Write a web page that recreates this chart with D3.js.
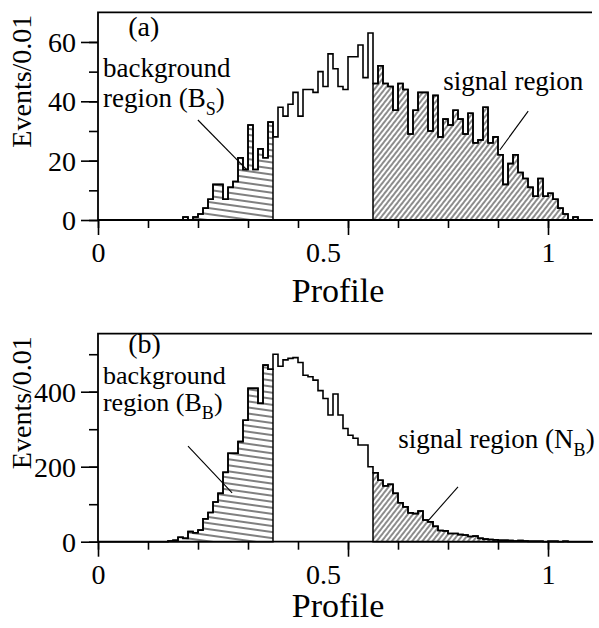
<!DOCTYPE html>
<html>
<head>
<meta charset="utf-8">
<script src="https://cdn.jsdelivr.net/npm/d3@7"></script>
<style>
body{margin:0;background:#fff;}
svg text{font-family:"Liberation Serif","Times New Roman",serif;fill:#000;}
</style>
</head>
<body>
<svg width="599" height="628"></svg>
<script>
"use strict";

// width of one histogram bin in profile units
var binWidth = 1/90;

// panel (a): events per bin, bin 0 starts at profile 0
var countsA = [0,0,0,0,0,0,0,0,0,0, 0,0,0,0,0,0,0,1,0,1,
	2,4,7,12,12,7,11,13,21,17, 32,17,24,21,33,28,38,35,39,43,
	35,44,44,43,50,45,56,51,45,44, 55,55,59,48,63,46,52,46,45,37,
	46,44,29,37,43,43,30,42,28,34, 32,37,34,29,36,26,27,38,26,28,
	22,12,19,22,16,14,11,8,14,8, 9,7,4,2,0,1,0,0,0];

// panel (b)
var countsB = [0,0,0,0,0,0,0,0,0,0, 0,0,0,0,2,4,12,9,27,24,
	31,61,78,106,129,185,236,236,267,324, 409,409,369,471,460,500,468,485,489,491,
	478,444,440,431,403,382,338,394,338,302, 284,276,258,258,200,184,164,149,153,129,
	104,93,77,75,82,58,53,41,30,29, 22,22,19,18,14,15,9,7,6,5,
	4,4,3,2,3,2,1,1,1,0, 1,1,0,1,0,0,0,0,0];

// regions as [first bin, end bin)
var bkgBins = [0, 35];
var sigBins = [55, 99];

var xTickLabels = [0, 0.5, 1];
var yMinorA = [0,10,20,30,40,50,60];
var yMajorA = [0,20,40,60];
var yMinorB = [0,100,200,300,400,500];
var yMajorB = [0,200,400];

function dataViz(){

	var svg = d3.select("svg");
	var defs = svg.append("defs");

	defs.append("pattern")
		.attr("id","hatchBkg")
		.attr("patternUnits","userSpaceOnUse")
		.attr("width",12).attr("height",6)
		.attr("patternTransform","rotate(8)")
		.append("line")
		.attr("x1",0).attr("y1",3).attr("x2",12).attr("y2",3)
		.attr("stroke","#000").attr("stroke-width",1);

	defs.append("pattern")
		.attr("id","hatchSig")
		.attr("patternUnits","userSpaceOnUse")
		.attr("width",4).attr("height",12)
		.attr("patternTransform","rotate(38)")
		.append("line")
		.attr("x1",2).attr("y1",0).attr("x2",2).attr("y2",12)
		.attr("stroke","#000").attr("stroke-width",0.9);

	function panel(counts, yMax, top, bottom, yMinor, yMajor, titleY){
		var g = svg.append("g");
		var xScale = d3.scaleLinear().domain([0,1]).range([98,548]);
		var yScale = d3.scaleLinear().domain([0,yMax]).range([bottom,top]);
		var xEnd = 592;

		function region(r, fill){
			var pts = d3.range(r[0], r[1]);
			var area = d3.area()
				.curve(d3.curveStepAfter)
				.x(function(i){return xScale(i*binWidth);})
				.y0(yScale(0))
				.y1(function(i){return yScale(counts[Math.min(i, r[1]-1)]);});
			g.append("path")
				.attr("d", area(pts.concat([r[1]])))
				.attr("fill", fill)
				.attr("stroke","#000")
				.attr("stroke-width",1.5);
		}
		region(bkgBins, "url(#hatchBkg)");
		region(sigBins, "url(#hatchSig)");

		var line = d3.line()
			.curve(d3.curveStepAfter)
			.x(function(i){return xScale(i*binWidth);})
			.y(function(i){return yScale(counts[Math.min(i, counts.length-1)]);});
		g.append("path")
			.attr("d", line(d3.range(0, counts.length+1)))
			.attr("fill","none")
			.attr("stroke","#000")
			.attr("stroke-width",1.6);

		// frame
		g.append("path")
			.attr("d","M"+xScale(0)+","+yScale(0)+"H"+xEnd+"M"+xScale(0)+","+yScale(0)+"V"+yScale(yMax)+"H"+xEnd)
			.attr("fill","none").attr("stroke","#000").attr("stroke-width",1.8);

		// x ticks every tenth of the drawn axis
		var minorX = g.append("g").attr("transform","translate(0,"+yScale(0)+")")
			.call(d3.axisBottom(xScale).tickValues(d3.range(0,10).map(function(k){return k/9;})).tickSize(8).tickFormat(""));
		var majorX = g.append("g").attr("transform","translate(0,"+yScale(0)+")")
			.call(d3.axisBottom(xScale).tickValues([0,5/9,1]).tickSize(15).tickFormat(""));
		var labX = g.append("g").attr("transform","translate(0,"+yScale(0)+")")
			.call(d3.axisBottom(xScale).tickValues(xTickLabels).tickSize(0).tickPadding(22).tickFormat(d3.format("")));

		var minorY = g.append("g").attr("transform","translate("+xScale(0)+",0)")
			.call(d3.axisLeft(yScale).tickValues(yMinor).tickSize(9).tickFormat(""));
		var majorY = g.append("g").attr("transform","translate("+xScale(0)+",0)")
			.call(d3.axisLeft(yScale).tickValues(yMajor).tickSize(17).tickPadding(5).tickFormat(d3.format("d")));

		[minorX, majorX, labX, minorY, majorY].forEach(function(a){
			a.select(".domain").remove();
			a.selectAll("line").attr("stroke","#000").attr("stroke-width",1.6);
			a.selectAll("text").attr("font-family",null).attr("font-size",28).attr("fill","#000");
		});
		labX.selectAll("text").attr("dy","0.71em");
		majorY.selectAll("text").attr("dy","0.34em");

		g.append("text")
			.attr("x",338).attr("y",titleY)
			.attr("text-anchor","middle")
			.attr("font-size",34)
			.text("Profile");

		g.append("text")
			.attr("transform","translate(31,"+(yScale(yMax)+ (bottom-top)/2 - 35)+") rotate(-90)")
			.attr("text-anchor","middle")
			.attr("font-size",28)
			.text("Events/0.01");

		return {g:g, x:xScale, y:yScale};
	}

	function label(p, v, c, parts, size){
		var t = p.g.append("text")
			.attr("x", p.x(v)).attr("y", p.y(c))
			.attr("font-size", size);
		var shift = 0;
		parts.forEach(function(s){
			var sub = s.sub === true;
			var dy = sub ? 8 - shift : -shift;
			shift = sub ? 8 : 0;
			t.append("tspan").attr("dy", dy).attr("font-size", sub ? 18 : size).text(s.t);
		});
	}
	function leader(p, v1, c1, v2, c2){
		p.g.append("line")
			.attr("x1",p.x(v1)).attr("y1",p.y(c1))
			.attr("x2",p.x(v2)).attr("y2",p.y(c2))
			.attr("stroke","#000").attr("stroke-width",1.1);
	}

	var a = panel(countsA, 70, 12.3, 220, yMinorA, yMajorA, 302);
	label(a, 0.067, 62, [{t:"(a)"}], 28);
	label(a, 0.011, 48.2, [{t:"background"}], 27);
	label(a, 0.011, 38.1, [{t:"region (B"},{t:"S",sub:true},{t:")"}], 27);
	label(a, 0.767, 43.8, [{t:"signal region"}], 27);
	leader(a, 0.222, 33.7, 0.331, 16.9);
	leader(a, 0.956, 36.7, 0.893, 23.6);

	var b = panel(countsB, 555, 333.6, 541.7, yMinorB, yMajorB, 617);
	label(b, 0.067, 502, [{t:"(b)"}], 28);
	label(b, 0.011, 421, [{t:"background"}], 26);
	label(b, 0.011, 348, [{t:"region (B"},{t:"B",sub:true},{t:")"}], 26);
	label(b, 0.667, 250, [{t:"signal region (N"},{t:"B",sub:true},{t:")"}], 27);
	leader(b, 0.2, 255, 0.298, 130);
	leader(b, 0.8, 146, 0.731, 52.5);
}

dataViz();
</script>
</body>
</html>
